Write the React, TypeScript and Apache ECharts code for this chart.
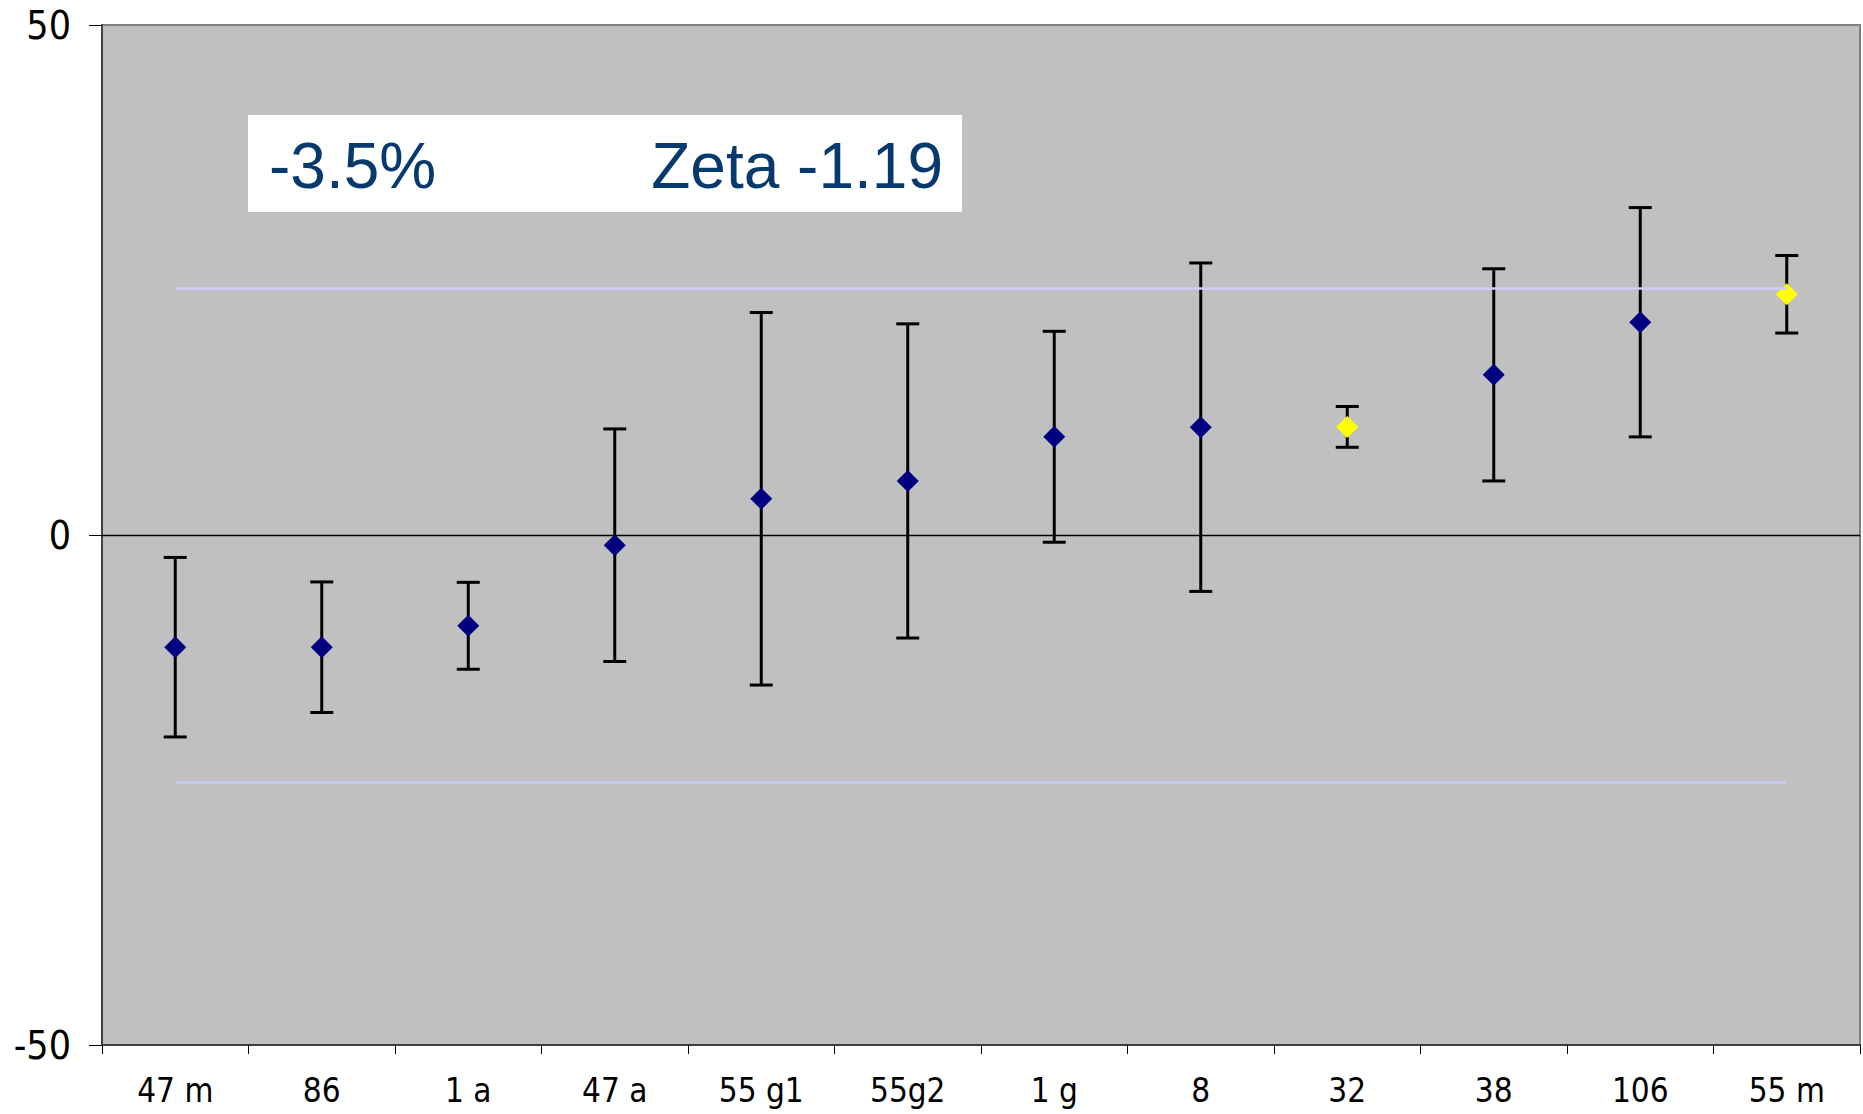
import React, { useEffect, useRef } from "react";
import * as echarts from "echarts";

const categories = ["47 m", "86", "1 a", "47 a", "55 g1", "55g2", "1 g", "8", "32", "38", "106", "55 m"];
const values = [-11.0, -11.0, -8.9, -1.0, 3.55, 5.3, 9.63, 10.57, 10.6, 15.7, 20.86, 23.6];
const errors = [8.8, 6.4, 4.26, 11.4, 18.26, 15.4, 10.34, 16.1, 2.0, 10.4, 11.24, 3.8];
const highlighted = ["32", "55 m"];
const limitUpper = 24.2;
const limitLower = -24.2;
const yTicks = { min: -50, max: 50, interval: 50 };
const annotationLeft = "-3.5%";
const annotationRight = "Zeta -1.19";

export default function App() {
  const ref = useRef<HTMLDivElement>(null);
  useEffect(() => {
    if (!ref.current) return;
    const chart = echarts.init(ref.current, null, { renderer: "svg" });
    const axisFont = "'DejaVu Sans Condensed', 'DejaVu Sans', Tahoma, sans-serif";
    const errData = categories.map((c, i) => [i, values[i] - errors[i], values[i] + errors[i]]);
    const pointData = categories.map((c, i) => ({
      value: [i, values[i]],
      itemStyle: { color: highlighted.includes(c) ? "#ffff00" : "#000080", opacity: 1 },
    }));
    const first = categories[0];
    const last = categories[categories.length - 1];
    chart.setOption({
      animation: false,
      grid: {
        left: 102,
        right: 3,
        top: 25,
        bottom: 69,
        show: true,
        backgroundColor: "#c0c0c0",
        borderColor: "#808080",
        borderWidth: 2,
      },
      xAxis: {
        type: "category",
        data: categories,
        boundaryGap: true,
        axisLine: { show: true, onZero: false, lineStyle: { color: "#404040", width: 2 } },
        axisTick: { show: true, length: 9, lineStyle: { color: "#000", width: 1 } },
        axisLabel: {
          fontFamily: axisFont,
          fontSize: 33,
          color: "#000",
          margin: 29,
          interval: 0,
        },
        splitLine: { show: false },
      },
      yAxis: {
        type: "value",
        min: yTicks.min,
        max: yTicks.max,
        interval: yTicks.interval,
        axisLine: { show: true, onZero: false, lineStyle: { color: "#404040", width: 2 } },
        axisTick: { show: true, length: 13, lineStyle: { color: "#000", width: 1 } },
        axisLabel: {
          fontFamily: axisFont,
          fontSize: 39,
          color: "#000",
          margin: 31,
        },
        splitLine: { show: false },
      },
      series: [
        {
          type: "scatter",
          data: [],
          z: 1,
          silent: true,
          markLine: {
            silent: true,
            symbol: "none",
            label: { show: false },
            lineStyle: { color: "#000", width: 1.3, type: "solid" },
            data: [{ yAxis: 0 }],
          },
        },
        {
          type: "custom",
          z: 2,
          silent: true,
          encode: { x: 0, y: [1, 2] },
          data: errData,
          renderItem: (params: any, api: any) => {
            const lo = api.coord([api.value(0), api.value(1)]);
            const hi = api.coord([api.value(0), api.value(2)]);
            const half = 11.5;
            const style = { stroke: "#000", lineWidth: 3 };
            return {
              type: "group",
              children: [
                { type: "line", shape: { x1: lo[0], y1: lo[1], x2: hi[0], y2: hi[1] }, style },
                { type: "line", shape: { x1: lo[0] - half, y1: lo[1], x2: lo[0] + half, y2: lo[1] }, style },
                { type: "line", shape: { x1: hi[0] - half, y1: hi[1], x2: hi[0] + half, y2: hi[1] }, style },
              ],
            };
          },
        },
        {
          type: "scatter",
          data: [],
          z: 3,
          silent: true,
          markLine: {
            silent: true,
            symbol: "none",
            label: { show: false },
            lineStyle: { color: "#ccccff", width: 2.5, type: "solid" },
            data: [
              [{ coord: [first, limitUpper] }, { coord: [last, limitUpper] }],
              [{ coord: [first, limitLower] }, { coord: [last, limitLower] }],
            ],
          },
        },
        {
          type: "scatter",
          z: 4,
          symbol: "diamond",
          symbolSize: 22,
          itemStyle: { opacity: 1 },
          data: pointData,
        },
      ],
      graphic: [
        {
          type: "rect",
          shape: { x: 248, y: 115, width: 714, height: 97 },
          style: { fill: "#ffffff" },
          z: 10,
        },
        {
          type: "text",
          x: 269,
          y: 166,
          z: 11,
          scaleX: 0.985,
          style: {
            text: annotationLeft,
            fontFamily: "'Liberation Sans', Arial, sans-serif",
            fontSize: 65,
            fill: "#063a6e",
            verticalAlign: "middle",
            align: "left",
          },
        },
        {
          type: "text",
          x: 943,
          y: 166,
          z: 11,
          scaleX: 0.985,
          style: {
            text: annotationRight,
            fontFamily: "'Liberation Sans', Arial, sans-serif",
            fontSize: 65,
            fill: "#063a6e",
            verticalAlign: "middle",
            align: "right",
          },
        },
      ],
    });
    return () => chart.dispose();
  }, []);
  return (
    <div
      ref={ref}
      style={{ position: "absolute", left: 0, top: 0, width: 1863, height: 1114, background: "#ffffff" }}
    />
  );
}
